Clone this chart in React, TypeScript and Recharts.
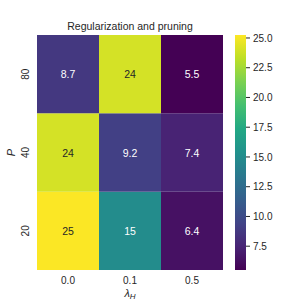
import { BarChart, Bar, XAxis, YAxis, Cell, LabelList } from 'recharts';

const lambdas = ['0.0', '0.1', '0.5'];
const pRows = ['20', '40', '80']; // bottom to top
const p20 = [25.2, 15, 6.4];
const p40 = [24, 9.2, 7.4];
const p80 = [8.7, 24, 5.5];
const cbarTicks = [7.5, 10, 12.5, 15, 17.5, 20, 22.5, 25];
const vMin = 5.5;
const vMax = 25.25;

const viridis = ['#440154', '#482475', '#414487', '#355f8d', '#2a788e', '#21918c', '#22a884', '#44bf70', '#7ad151', '#bddf26', '#fde725'];

const FONT = '"Liberation Sans", Arial, sans-serif';
const INK = '#262626';

function hexToRgb(h: string) {
  return [1, 3, 5].map((i) => parseInt(h.slice(i, i + 2), 16));
}

function colorRgb(v: number) {
  const t = Math.min(1, Math.max(0, (v - vMin) / (vMax - vMin)));
  const pos = t * (viridis.length - 1);
  const i = Math.min(viridis.length - 2, Math.floor(pos));
  const f = pos - i;
  const a = hexToRgb(viridis[i]);
  const b = hexToRgb(viridis[i + 1]);
  return a.map((c, k) => Math.round(c + (b[k] - c) * f));
}

function colorOf(v: number) {
  const [r, g, b] = colorRgb(v);
  return `rgb(${r},${g},${b})`;
}

// same rule seaborn uses to pick annotation colour
function textColorOf(v: number) {
  const lin = colorRgb(v).map((c) => {
    const s = c / 255;
    return s <= 0.03928 ? s / 12.92 : Math.pow((s + 0.055) / 1.055, 2.4);
  });
  const lum = 0.2126 * lin[0] + 0.7152 * lin[1] + 0.0722 * lin[2];
  return lum > 0.408 ? INK : '#ffffff';
}

const data = lambdas.map((lam, i) => ({
  lam,
  c20: 1,
  c40: 1,
  c80: 1,
  v20: p20[i],
  v40: p40[i],
  v80: p80[i],
}));

const rows = [
  { key: 'c20', label: 'v20', vals: p20 },
  { key: 'c40', label: 'v40', vals: p40 },
  { key: 'c80', label: 'v80', vals: p80 },
];

const cellLabel = (props: any) => {
  const { x, y, width, height, value } = props;
  return (
    <text
      x={x + width / 2}
      y={y + height / 2}
      textAnchor="middle"
      dominantBaseline="central"
      fontSize={10.5}
      fontFamily={FONT}
      fill={textColorOf(Number(value))}
    >
      {value >= 10 ? Math.round(value) : value.toFixed(1)}
    </text>
  );
};

const RowTick = (props: any) => {
  const { x, y, payload } = props;
  const tx = x - 8;
  return (
    <text
      x={tx}
      y={y}
      transform={`rotate(-90, ${tx}, ${y})`}
      textAnchor="middle"
      fontSize={10}
      fontFamily={FONT}
      fill={INK}
    >
      {pRows[Math.floor(payload.value)]}
    </text>
  );
};

export default function App() {
  return (
    <div style={{ position: 'relative', width: 300, height: 300, background: '#fff' }}>
      <style>{'body{margin:0}'}</style>
      <svg width={300} height={40} style={{ position: 'absolute', left: 0, top: 0 }}>
        <text x={130} y={30} textAnchor="middle" fontSize={10.5} fontFamily={FONT} fill={INK}>
          Regularization and pruning
        </text>
      </svg>
      <div style={{ position: 'absolute', left: 0, top: 0 }}>
        <BarChart
          width={300}
          height={300}
          data={data}
          margin={{ top: 35, right: 77, bottom: 0, left: 7 }}
          barCategoryGap={0}
          barGap={0}
        >
          <XAxis
            dataKey="lam"
            height={30}
            axisLine={false}
            tickLine={false}
            tickSize={0}
            tickMargin={7}
            tick={{ fontSize: 10, fontFamily: FONT, fill: INK }}
            label={(p: any) => {
              const vb = p.viewBox;
              return (
                <text x={vb.x + vb.width / 2} y={vb.y + 27} textAnchor="middle" fontFamily={FONT} fill={INK} fontSize={11}>
                  <tspan fontStyle="italic">λ</tspan>
                  <tspan fontStyle="italic" fontSize={8} dy={2}>H</tspan>
                </text>
              );
            }}
          />
          <YAxis
            type="number"
            domain={[0, 3]}
            ticks={[0.5, 1.5, 2.5]}
            width={30}
            axisLine={false}
            tickLine={false}
            tickSize={0}
            tickMargin={0}
            tick={<RowTick />}
            label={(p: any) => {
              const vb = p.viewBox;
              const cx = 15;
              const cy = vb.y + vb.height / 2;
              return (
                <text x={cx} y={cy} transform={`rotate(-90, ${cx}, ${cy})`} textAnchor="middle" fontFamily={FONT} fill={INK} fontSize={11} fontStyle="italic">
                  P
                </text>
              );
            }}
          />
          {rows.map((r) => (
            <Bar key={r.key} dataKey={r.key} stackId="hm" isAnimationActive={false}>
              {r.vals.map((v, i) => (
                <Cell key={i} fill={colorOf(v)} />
              ))}
              <LabelList dataKey={r.label} content={cellLabel} />
            </Bar>
          ))}
        </BarChart>
      </div>
      <div style={{ position: 'absolute', left: 0, top: 0 }}>
        <BarChart
          width={300}
          height={300}
          data={[{ name: 'cbar', range: [vMin, vMax] }]}
          margin={{ top: 35, right: 0, bottom: 30, left: 235 }}
          barCategoryGap={0}
        >
          <defs>
            <linearGradient id="viridisGrad" x1="0" y1="1" x2="0" y2="0">
              {viridis.map((c, i) => (
                <stop key={i} offset={`${(i / (viridis.length - 1)) * 100}%`} stopColor={c} />
              ))}
            </linearGradient>
          </defs>
          <XAxis dataKey="name" hide />
          <YAxis
            orientation="right"
            type="number"
            domain={[vMin, vMax]}
            ticks={cbarTicks}
            width={54}
            axisLine={false}
            tickLine={{ stroke: INK }}
            tickSize={4}
            tickMargin={3}
            tickFormatter={(v: number) => v.toFixed(1)}
            tick={{ fontSize: 10, fontFamily: FONT, fill: INK }}
          />
          <Bar dataKey="range" fill="url(#viridisGrad)" isAnimationActive={false} />
        </BarChart>
      </div>
    </div>
  );
}
